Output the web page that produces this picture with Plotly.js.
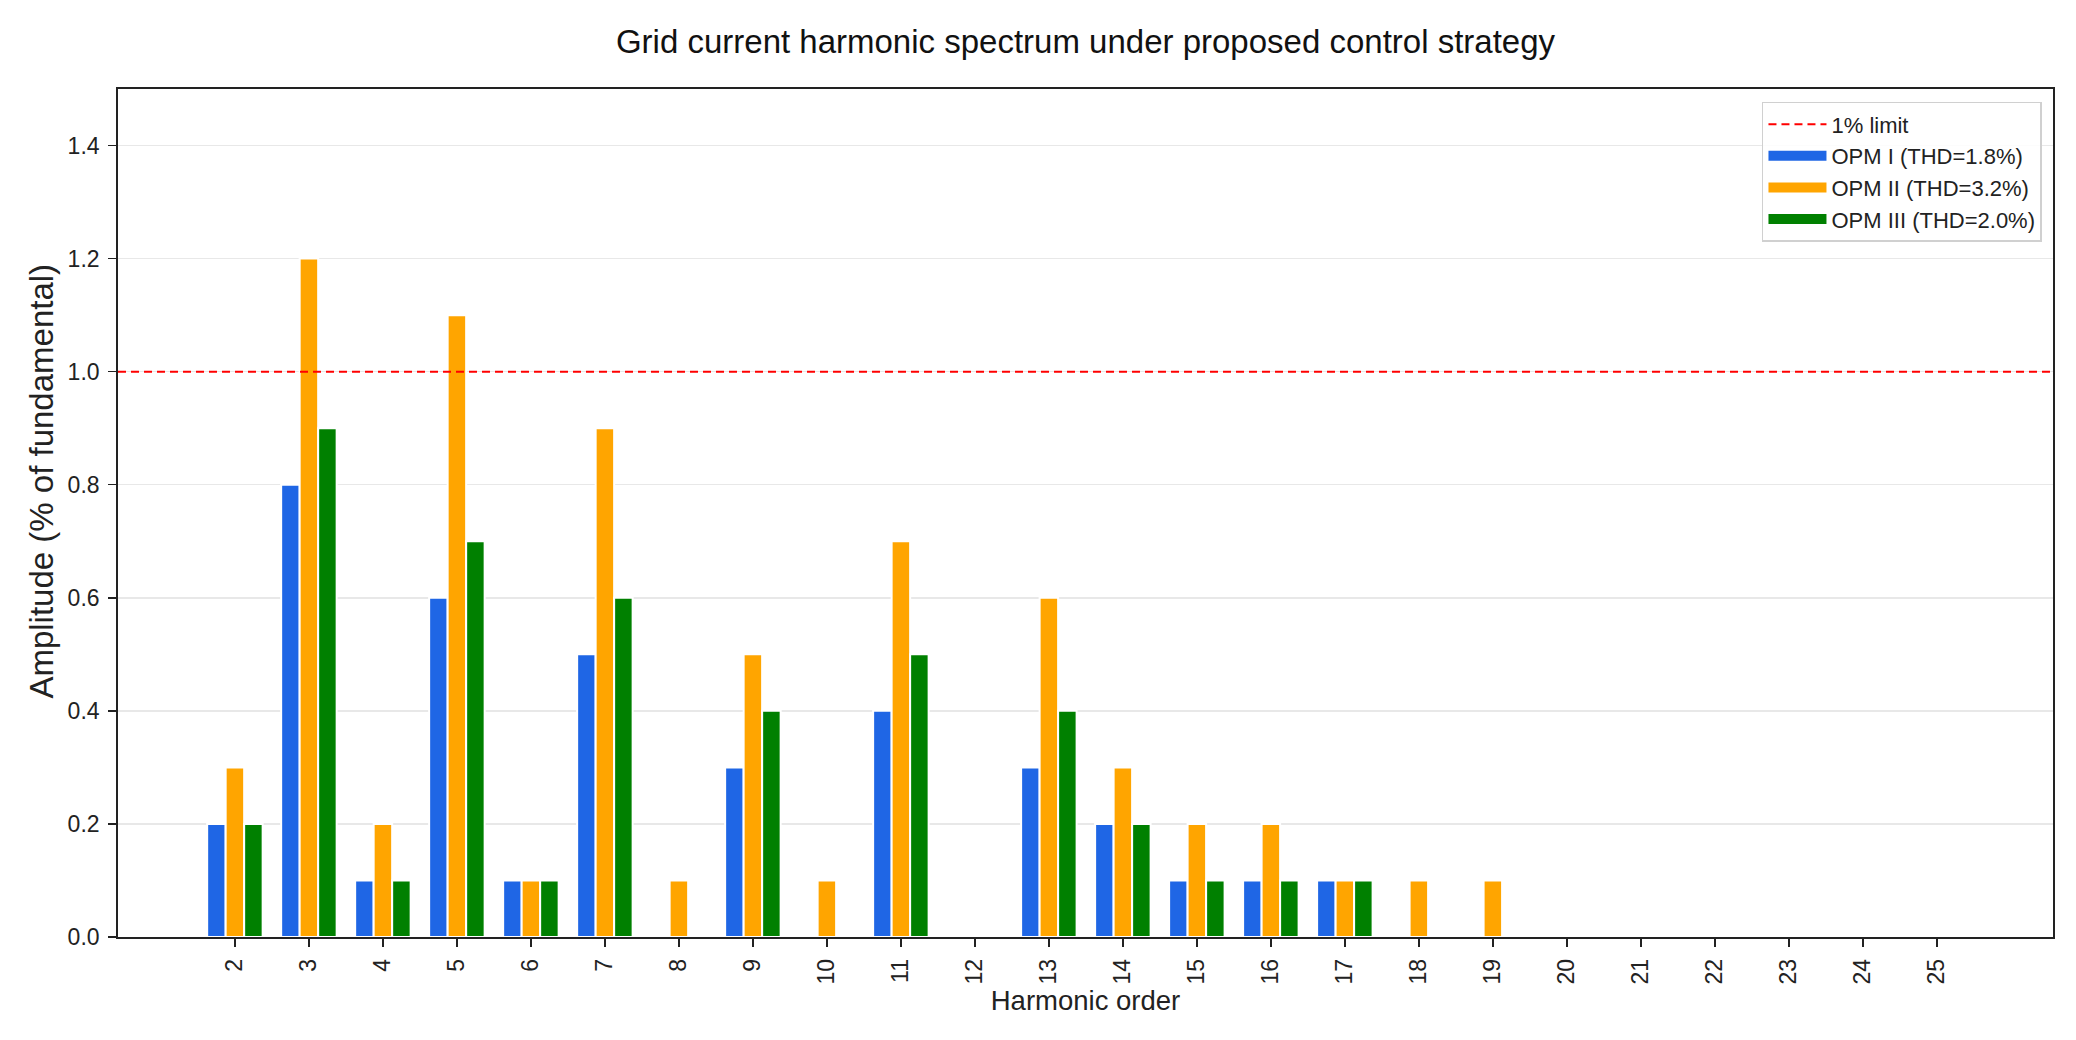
<!DOCTYPE html>
<html>
<head>
<meta charset="utf-8">
<script src="https://cdn.plot.ly/plotly-3.0.1.min.js"></script>
<style>html,body{margin:0;padding:0;background:#fff;}#chart{width:2076px;height:1040px;}</style>
</head>
<body>
<div id="chart"></div>
<script>
// Harmonic orders shown on the x axis
const harmonics = [2,3,4,5,6,7,8,9,10,11,12,13,14,15,16,17,18,19,20,21,22,23,24,25];
// Amplitudes (% of fundamental)
const opm1 = [0.2,0.8,0.1,0.6,0.1,0.5,0,0.3,0,0.4,0,0.3,0.2,0.1,0.1,0.1,0,0,0,0,0,0,0,0];
const opm2 = [0.3,1.2,0.2,1.1,0.1,0.9,0.1,0.5,0.1,0.7,0,0.6,0.3,0.2,0.2,0.1,0.1,0.1,0,0,0,0,0,0];
const opm3 = [0.2,0.9,0.1,0.7,0.1,0.6,0,0.4,0,0.5,0,0.4,0.2,0.1,0.1,0.1,0,0,0,0,0,0,0,0];
const seriesNames = ['OPM I (THD=1.8%)','OPM II (THD=3.2%)','OPM III (THD=2.0%)'];
const limitValue = 1.0;
const limitName = '1% limit';
const yTicks = [0.0,0.2,0.4,0.6,0.8,1.0,1.2,1.4];
const yTickText = ['0.0','0.2','0.4','0.6','0.8','1.0','1.2','1.4'];
const titleText = 'Grid current harmonic spectrum under proposed control strategy';
const xTitleText = 'Harmonic order';
const yTitleText = 'Amplitude (% of fundamental)';

const FONT = '"Liberation Sans", Arial, sans-serif';
const colors = ['#1f66e5','#ffa500','#008000'];
const series = [opm1, opm2, opm3];

const traces = [];
series.forEach((vals, i) => {
  traces.push({
    type: 'bar',
    x: harmonics,
    y: vals,
    name: seriesNames[i],
    legendgroup: 'g' + i,
    showlegend: false,
    marker: {color: colors[i], line: {color: '#ffffff', width: 2}},
    hoverinfo: 'x+y+name'
  });
});
// legend-only entries drawn as thick swatches
series.forEach((vals, i) => {
  traces.push({
    type: 'scatter', mode: 'lines',
    x: [null], y: [null],
    name: seriesNames[i],
    legendgroup: 'g' + i,
    showlegend: true,
    line: {color: colors[i], width: 15},
    hoverinfo: 'skip'
  });
});

const layout = {
  width: 2076, height: 1040,
  paper_bgcolor: '#ffffff', plot_bgcolor: '#ffffff',
  margin: {l: 118, r: 23, t: 89, b: 103, pad: 0},
  font: {family: FONT, color: '#222222', size: 23},
  title: {
    text: titleText,
    font: {family: FONT, size: 33, color: '#111111'},
    x: 0.5, xanchor: 'center', xref: 'paper',
    y: 0.96, yanchor: 'middle'
  },
  barmode: 'group',
  bargap: 0.25,
  bargroupgap: 0,
  showlegend: true,
  legend: {
    x: 0.9943, xanchor: 'right', y: 0.9847, yanchor: 'top',
    bgcolor: 'rgba(255,255,255,0.85)', bordercolor: '#d0d0d0', borderwidth: 1.5,
    font: {family: FONT, size: 22, color: '#222222'},
    traceorder: 'grouped', tracegroupgap: 0, itemwidth: 58
  },
  xaxis: {
    range: [0.42, 26.57],
    tickmode: 'array', tickvals: harmonics, ticktext: harmonics.map(String),
    tickangle: -90,
    ticks: 'outside', ticklen: 8, tickwidth: 1.5, tickcolor: '#222',
    ticklabelstandoff: 3,
    showline: true, linecolor: '#222', linewidth: 1.8, mirror: true,
    showgrid: false, zeroline: false,
    tickfont: {family: FONT, size: 23, color: '#222'},
    title: {text: xTitleText, font: {family: FONT, size: 27.5, color: '#222'}, standoff: 7},
    automargin: false
  },
  yaxis: {
    range: [0, 1.5],
    tickmode: 'array', tickvals: yTicks, ticktext: yTickText,
    ticks: 'outside', ticklen: 8, tickwidth: 1.5, tickcolor: '#222',
    ticklabelstandoff: 4,
    showline: true, linecolor: '#222', linewidth: 1.8, mirror: true,
    showgrid: true, gridcolor: '#e8e8e8', gridwidth: 1.5, zeroline: false,
    tickfont: {family: FONT, size: 23, color: '#222'},
    automargin: false
  },
  annotations: [{
    text: yTitleText, textangle: -90, showarrow: false,
    xref: 'paper', x: 0, xanchor: 'center', xshift: -76,
    yref: 'paper', y: 0.537, yanchor: 'middle',
    font: {family: FONT, size: 33, color: '#222'}
  }],
  shapes: [{
    type: 'line', xref: 'paper', x0: 0, x1: 1, yref: 'y', y0: limitValue, y1: limitValue,
    line: {color: '#ff0000', width: 2, dash: '8px,5px'},
    showlegend: true, name: limitName, legendgroup: 'limit', legendrank: 1, layer: 'above'
  }]
};

Plotly.newPlot('chart', traces, layout, {displayModeBar: false, staticPlot: true});
</script>
</body>
</html>
